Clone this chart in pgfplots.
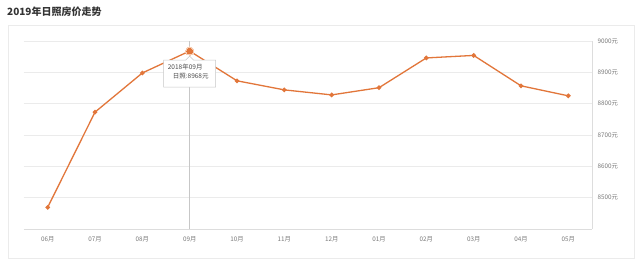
\documentclass[border=0pt]{standalone}
\usepackage{fontspec}
\setmainfont{Noto Sans CJK SC}
\usepackage{pgfplots}
\pgfplotsset{compat=1.18}
\definecolor{lineor}{HTML}{E2763A}
\definecolor{halo}{HTML}{F6CDB3}
\definecolor{gridc}{HTML}{EBEBEB}
\definecolor{axc}{HTML}{DDDDDD}
\definecolor{tickc}{HTML}{7A7A7A}
\begin{document}
\begin{tikzpicture}[x=1pt,y=1pt]
\useasboundingbox (-24,-40) rectangle (616,229);
\fill[white] (-24,-40) rectangle (616,229);
\draw[draw=gridc, line width=0.8pt] (-16,-29) rectangle (610,204);
\node[anchor=west, font=\fontsize{10}{12}\selectfont\bfseries, text=black!80, inner sep=0pt] at (-17,217) {2019年日照房价走势};
\begin{axis}[
  at={(0,0)}, anchor=south west,
  scale only axis, width=568pt, height=188pt,
  xmin=-0.5, xmax=11.5, ymin=8400, ymax=9000,
  axis x line*=bottom, axis y line*=right,
  axis line style={draw=axc, line width=0.8pt},
  xtick={0,...,11},
  xticklabels={06月,07月,08月,09月,10月,11月,12月,01月,02月,03月,04月,05月},
  ytick={8500,8600,8700,8800,8900,9000},
  yticklabels={8500元,8600元,8700元,8800元,8900元,9000元},
  major tick length=0pt,
  ymajorgrids, grid style={draw=gridc, line width=0.7pt},
  tick label style={font=\fontsize{6.3}{7}\selectfont, text=tickc},
  xticklabel style={yshift=-4pt},
  yticklabel style={xshift=2pt},
  clip=false,
]
\addplot[draw=black!22, line width=0.6pt, mark=none] coordinates {(3,8400) (3,9000)};
\addplot[color=lineor, line width=1.3pt, mark=*, mark size=1.6pt, mark options={solid, fill=lineor, draw=lineor}] coordinates {
(0,8469) (1,8773) (2,8898) (3,8968) (4,8873) (5,8844) (6,8828) (7,8851) (8,8946) (9,8954) (10,8857) (11,8825)};
\addplot[color=halo, only marks, mark=*, mark size=4.2pt, mark options={solid, fill=halo, draw=halo, line width=0pt}] coordinates {(3,8968)};
\addplot[color=lineor, only marks, mark=*, mark size=2.8pt, mark options={solid, fill=lineor, draw=lineor, line width=0pt}] coordinates {(3,8968)};
\draw[draw=black!22, fill=white, line width=0.5pt]
  ([xshift=-26pt]axis cs:3,8939) -- ([xshift=-4pt]axis cs:3,8939) -- ([yshift=4pt]axis cs:3,8939) -- ([xshift=4pt]axis cs:3,8939)
  -- ([xshift=26pt]axis cs:3,8939) -- ([xshift=26pt,yshift=-27pt]axis cs:3,8939) -- ([xshift=-26pt,yshift=-27pt]axis cs:3,8939) -- cycle;
\node[anchor=north west, font=\fontsize{6.5}{9}\selectfont, text=black!70, align=left, inner sep=0pt]
  at ([xshift=-22pt,yshift=-4pt]axis cs:3,8939) {2018年09月\\\hspace*{5pt}日照:8968元};
\end{axis}
\end{tikzpicture}
\end{document}
